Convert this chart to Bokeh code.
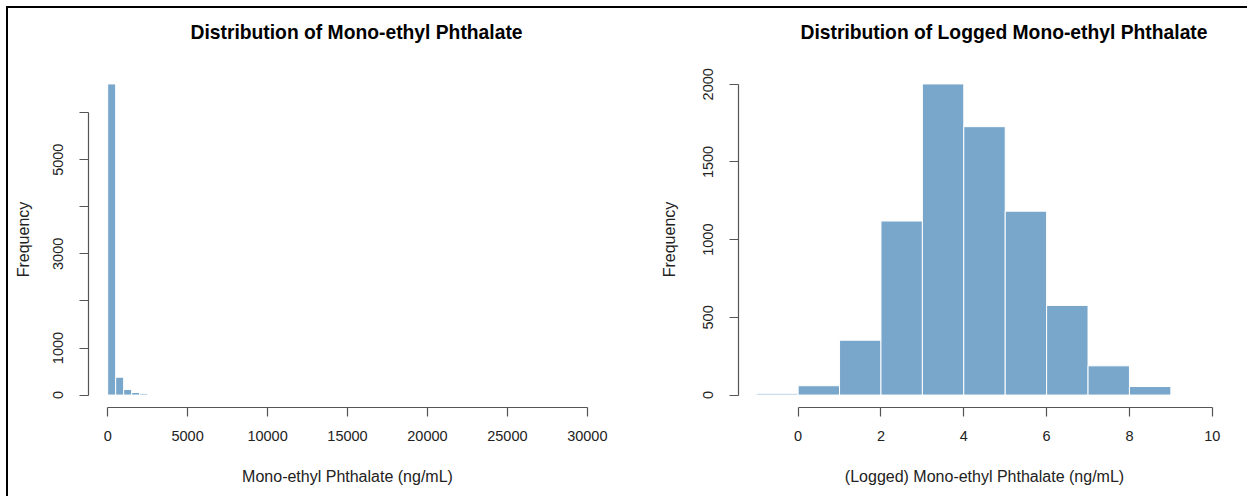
from bokeh.plotting import figure
from bokeh.layouts import row
from bokeh.models import FixedTicker, Range1d
from bokeh.embed import file_html
from bokeh.resources import INLINE

# ---- data ----
raw_edges = [0, 500, 1000, 1500, 2000, 2500]
raw_counts = [6610, 380, 120, 55, 30]
raw_xticks = [0, 5000, 10000, 15000, 20000, 25000, 30000]
raw_yticks = [0, 1000, 2000, 3000, 4000, 5000, 6000]
raw_ylabels = {0: "0", 1000: "1000", 2000: "", 3000: "3000", 4000: "", 5000: "5000", 6000: ""}

log_edges = [-1, 0, 1, 2, 3, 4, 5, 6, 7, 8, 9]
log_counts = [8, 60, 353, 1120, 2002, 1727, 1183, 577, 188, 55]
log_xticks = [0, 2, 4, 6, 8, 10]
log_yticks = [0, 500, 1000, 1500, 2000]

title_raw = "Distribution of Mono-ethyl Phthalate"
title_log = "Distribution of Logged Mono-ethyl Phthalate"
xlabel_raw = "Mono-ethyl Phthalate (ng/mL)"
xlabel_log = "(Logged) Mono-ethyl Phthalate (ng/mL)"
ylabel = "Frequency"

BAR = "#79a6cb"
FONT = "Liberation Sans"
AXC = "#555555"


def style(p, xticks, yticks, ylabels=None, title_offset=0, ylabel_standoff=20):
    p.title.text_font = FONT
    p.title.text_font_size = "19.3px"
    p.title.text_font_style = "bold"
    p.title.text_color = "black"
    p.title.align = "left"
    p.title.offset = title_offset
    p.title.standoff = 15
    p.grid.visible = False
    p.outline_line_color = None
    for ax, ticks in ((p.xaxis[0], xticks), (p.yaxis[0], yticks)):
        ax.ticker = FixedTicker(ticks=ticks)
        ax.bounds = (ticks[0], ticks[-1])
        ax.minor_tick_line_color = None
        ax.major_tick_in = 0
        ax.major_tick_out = 9
        ax.axis_line_color = AXC
        ax.major_tick_line_color = AXC
        ax.axis_line_width = 1.2
        ax.major_tick_line_width = 1.2
        ax.major_label_text_font = FONT
        ax.major_label_text_font_size = "14.5px"
        ax.major_label_text_color = "#222222"
        ax.axis_label_text_font = FONT
        ax.axis_label_text_font_size = "16px"
        ax.axis_label_text_font_style = "normal"
        ax.axis_label_text_color = "#222222"
    p.xaxis[0].major_label_standoff = 14
    p.xaxis[0].axis_label_standoff = 24
    p.yaxis[0].major_label_orientation = "vertical"
    p.yaxis[0].major_label_standoff = 16
    p.yaxis[0].axis_label_standoff = ylabel_standoff
    if ylabels:
        p.yaxis[0].major_label_overrides = ylabels


# a blank second title line lifts the title away from the plot frame
p1 = figure(width=632, height=488, output_backend="svg", toolbar_location=None,
            title=title_raw + "\n ", x_axis_label=xlabel_raw, y_axis_label=ylabel,
            x_range=Range1d(-1200, 31200), y_range=Range1d(-264, 6874),
            min_border_left=80, min_border_right=34, min_border_top=63, min_border_bottom=89)
p1.quad(left=raw_edges[:-1], right=raw_edges[1:], bottom=0, top=raw_counts,
        fill_color=BAR, line_color="white", line_width=1)
style(p1, raw_xticks, raw_yticks, raw_ylabels, title_offset=102, ylabel_standoff=19)

p2 = figure(width=607, height=488, output_backend="svg", toolbar_location=None,
            title=title_log + "\n ", x_axis_label=xlabel_log, y_axis_label=ylabel,
            x_range=Range1d(-1.44, 10.44), y_range=Range1d(-80, 2082),
            min_border_left=98, min_border_right=17, min_border_top=63, min_border_bottom=86)
p2.quad(left=log_edges[:-1], right=log_edges[1:], bottom=0, top=log_counts,
        fill_color=BAR, line_color="white", line_width=1)
style(p2, log_xticks, log_yticks, title_offset=62, ylabel_standoff=23)

layout = row(p1, p2, styles={"border-top": "2px solid black", "border-left": "2px solid black",
                             "margin-top": "6px", "margin-left": "6px"})

open("out.html", "w").write(file_html(layout, INLINE))
